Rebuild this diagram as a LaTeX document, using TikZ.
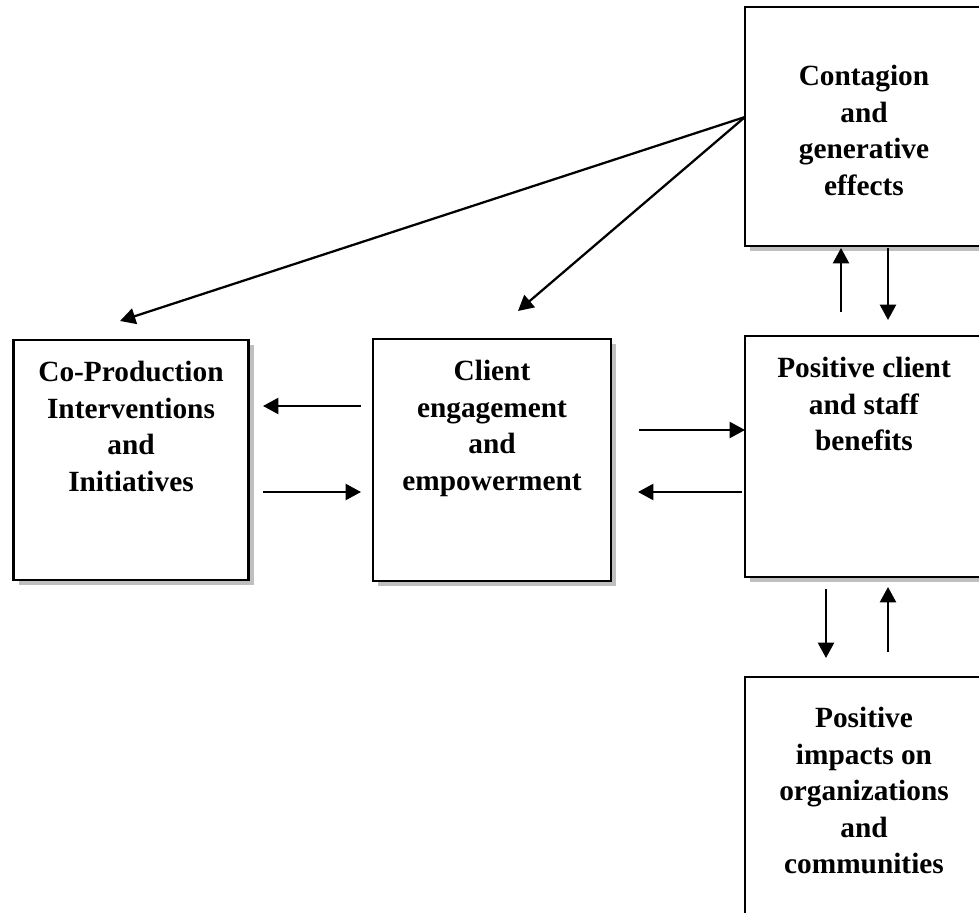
\documentclass[tikz,border=0pt]{standalone}
\usepackage{fontspec}
\setmainfont{Liberation Serif}
\usetikzlibrary{arrows.meta,shadows}
\begin{document}
\begin{tikzpicture}[x=0.75pt,y=-0.75pt,
  box/.style={draw=black,line width=2pt,fill=white,inner sep=0pt,
    general shadow={fill=black!25,shadow xshift=4pt,shadow yshift=-4pt}},
  lbl/.style={anchor=north,align=center,inner sep=0pt,
    font=\bfseries\fontsize{22pt}{27.4pt}\selectfont},
  link/.style={line width=1.7pt,-{Triangle[length=11.5pt,width=12pt]}}]
\useasboundingbox (0,0) rectangle (979,913);
\clip (0,0) rectangle (979,913);

% boxes
\node[box,minimum width=176.25pt,minimum height=180pt]  (copro)  at (131.25,460) {};
\node[box,minimum width=178.5pt,minimum height=181.5pt] (client) at (492,460) {};
\node[box,minimum width=178.5pt,minimum height=179.25pt](contag) at (864,126.5) {};
\node[box,minimum width=178.5pt,minimum height=180.75pt](benef)  at (864,456.5) {};
\node[box,minimum width=178.5pt,minimum height=180pt]   (impact) at (864,797) {};

% box texts
\node[lbl] (copro-t)  at (131,361) {Co-Production\\Interventions\\and\\Initiatives};
\node[lbl] (client-t) at (492,360) {Client\\engagement\\and\\empowerment};
\node[lbl] (contag-t) at (864,65)  {Contagion\\and\\generative\\effects};
\node[lbl] (benef-t)  at (864,357) {Positive client\\and staff\\benefits};
\node[lbl] (impact-t) at (864,707) {Positive\\impacts on\\organizations\\and\\communities};

% arrow end points
\coordinate (src)  at (745,117);
\coordinate (d1)   at (120,321);
\coordinate (d2)   at (518,311);
\coordinate (a1s)  at (361,406);
\coordinate (a1e)  at (263,406);
\coordinate (a2s)  at (263,492);
\coordinate (a2e)  at (361,492);
\coordinate (b1s)  at (639,430);
\coordinate (b1e)  at (745,430);
\coordinate (b2s)  at (742,492);
\coordinate (b2e)  at (638,492);
\coordinate (c1s)  at (841,312);
\coordinate (c1e)  at (841,248);
\coordinate (c2s)  at (888,248);
\coordinate (c2e)  at (888,320);
\coordinate (e1s)  at (826,589);
\coordinate (e1e)  at (826,658);
\coordinate (e2s)  at (888,652);
\coordinate (e2e)  at (888,587);

% connectors
\draw[link] (src) -- (d1);
\draw[link] (src) -- (d2);
\draw[link] (a1s) -- (a1e);
\draw[link] (a2s) -- (a2e);
\draw[link] (b1s) -- (b1e);
\draw[link] (b2s) -- (b2e);
\draw[link] (c1s) -- (c1e);
\draw[link] (c2s) -- (c2e);
\draw[link] (e1s) -- (e1e);
\draw[link] (e2s) -- (e2e);
\end{tikzpicture}
\end{document}
